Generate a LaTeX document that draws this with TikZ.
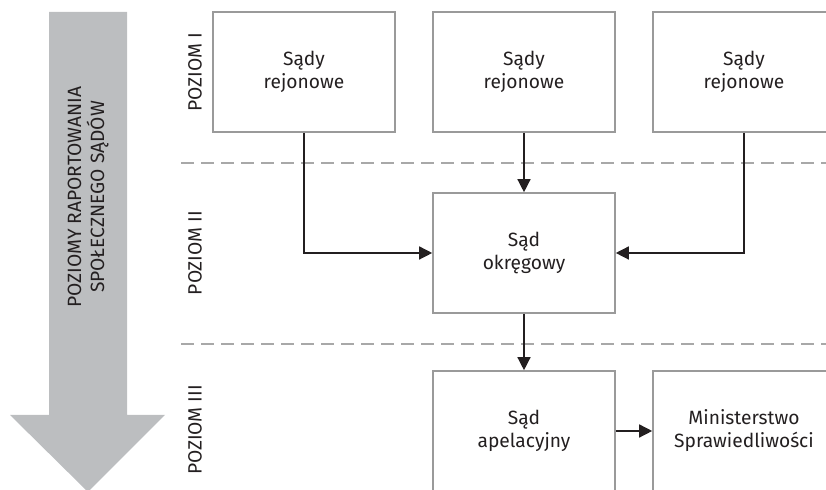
\documentclass[tikz,border=0pt]{standalone}
\usepackage{fontspec}
\setmainfont{Fira Sans}
\usetikzlibrary{arrows.meta,positioning}
\definecolor{boxcol}{HTML}{9A9A9A}
\definecolor{sepcol}{HTML}{A8A8A8}
\definecolor{flowcol}{HTML}{BCBEC0}
\definecolor{linecol}{HTML}{231F20}
\definecolor{textcol}{HTML}{231F20}
\tikzstyle{court} = [basic box]
\tikzstyle{report} = [-{Triangle[length=6.5pt,width=6.5pt]},linecol,line width=0.7pt]
\tikzstyle{sep} = [sepcol,line width=0.6pt,dash pattern=on 6.5pt off 3.5pt]
\tikzset{
  basic box/.style = {
    shape = rectangle,
    draw = boxcol,
    line width = 0.8pt,
    align = center,
    text width = 80pt,
    inner sep = 0pt,
    minimum width = 91pt,
    minimum height = 60pt,
    text = textcol,
    font = \fontsize{9.6}{11.5}\selectfont,
    },
  level/.style = {
    rotate = 90,
    text = textcol,
    font = \fontsize{9.6}{11.5}\selectfont,
    },
  flow text/.style = {
    level,
    align = center,
    }
}

\begin{document}
\begin{tikzpicture}[x=0.5pt,y=-0.5pt]
    \useasboundingbox (0,0) rectangle (826,490);
    \clip (0,0) rectangle (826,490);

    % reporting direction
    \fill[flowcol] (49,12) -- (127,12) -- (127,415) -- (165,415) -- (88,492)
        -- (10,415) -- (49,415) -- cycle;
    \node[flow text] (flow) at (88,197) {POZIOMY RAPORTOWANIA\\SPOŁECZNEGO SĄDÓW};

    % levels
    \node[level] (lvl1) at (195,72) {POZIOM I};
    \node[level] (lvl2) at (195,253) {POZIOM II};
    \node[level] (lvl3) at (195,430) {POZIOM III};

    \coordinate (sep1a) at (181,163);
    \coordinate (sep1b) at (826,163);
    \coordinate (sep2a) at (181,344);
    \coordinate (sep2b) at (826,344);
    \draw[sep] (sep1a) -- (sep1b);
    \draw[sep] (sep2a) -- (sep2b);

    % courts
    \node[court] (rej1) at (304,72) {Sądy\\rejonowe};
    \node[court, right=18.2pt of rej1] (rej2) {Sądy\\rejonowe};
    \node[court, right=18.2pt of rej2] (rej3) {Sądy\\rejonowe};

    \node[court, below=29.7pt of rej2] (okr) {Sąd\\okręgowy};
    \node[court, below=28.2pt of okr] (apel) {Sąd\\apelacyjny};
    \node[court, right=18.2pt of apel] (min) {Ministerstwo\\Sprawiedliwości};

    % Paths
    \draw[report] (rej1.south) |- (okr.west);
    \draw[report] (rej2.south) -- (okr.north);
    \draw[report] (rej3.south) |- (okr.east);
    \draw[report] (okr.south) -- (apel.north);
    \draw[report] (apel.east) -- (min.west);
\end{tikzpicture}
\end{document}
